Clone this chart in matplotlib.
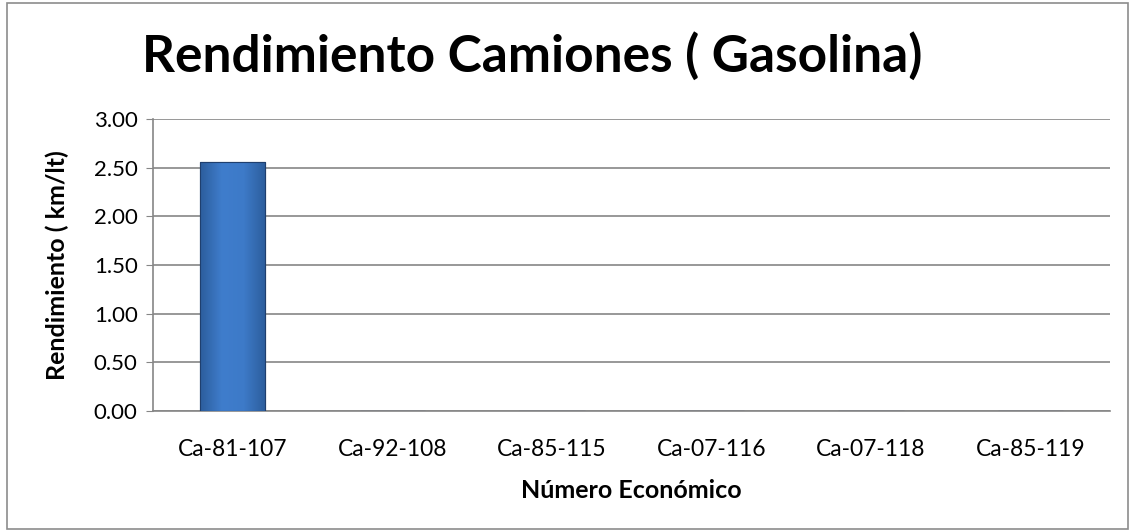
import numpy as np
import matplotlib
matplotlib.use('Agg')
import matplotlib.pyplot as plt
from matplotlib.patches import Rectangle

plt.rcParams['font.family'] = ['Lato', 'DejaVu Sans']

camiones = ['Ca-81-107', 'Ca-92-108', 'Ca-85-115', 'Ca-07-116', 'Ca-07-118', 'Ca-85-119']
rendimiento = [2.56, 0, 0, 0, 0, 0]
y_ticks = [0.0, 0.5, 1.0, 1.5, 2.0, 2.5, 3.0]

fig = plt.figure(figsize=(11.33, 5.31), dpi=100)
fig.patches.append(Rectangle((0.006, 0.004), 0.99, 0.99, transform=fig.transFigure,
                             fill=False, edgecolor='#8c8c8c', linewidth=1.2))
ax = fig.add_axes([0.135, 0.226, 0.845, 0.55])

x = np.arange(len(camiones))
bars = ax.bar(x, rendimiento, width=0.41, color='#3b78c6', edgecolor='#1f3f6e', linewidth=0.8, zorder=3)

# gradient inside each bar
grad = np.linspace(0, 1, 256).reshape(1, -1)
for b in bars:
    if b.get_height() <= 0:
        continue
    x0, w, h = b.get_x(), b.get_width(), b.get_height()
    im = ax.imshow(grad, extent=(x0, x0 + w, 0, h), aspect='auto', zorder=3.5,
                   cmap=matplotlib.colors.LinearSegmentedColormap.from_list(
                       'bar', ['#2c5d9c', '#3f7dcc', '#3d7ac8', '#2c5d9c']))
    im.set_clip_path(b)
    ax.add_patch(Rectangle((x0, 0), w, h, fill=False, edgecolor='#1f3f6e', linewidth=0.8, zorder=4))

ax.set_xlim(-0.5, len(camiones) - 0.5)
ax.set_ylim(0, 3.0)
ax.set_yticks(y_ticks)
ax.set_yticklabels([f'{v:.2f}' for v in y_ticks], fontsize=16)
ax.set_xticks(x)
ax.set_xticklabels(camiones, fontsize=16.5)
ax.tick_params(axis='x', length=0, pad=20)
ax.tick_params(axis='y', length=5, color='#868686', pad=6)
ax.yaxis.grid(True, color='#868686', linewidth=1.2, zorder=0)
ax.set_axisbelow(True)
for s in ['top', 'right']:
    ax.spines[s].set_visible(False)
for s in ['left', 'bottom']:
    ax.spines[s].set_color('#868686')
    ax.spines[s].set_linewidth(1.2)

ax.set_xlabel('Número Económico', fontsize=18, fontweight='bold', labelpad=14)
ax.set_ylabel('Rendimiento ( km/lt)', fontsize=18, fontweight='bold', labelpad=18)
fig.text(0.47, 0.893, 'Rendimiento Camiones ( Gasolina)', ha='center', va='center',
         fontsize=37, fontweight='bold')

fig.savefig('out.png', dpi=100)
